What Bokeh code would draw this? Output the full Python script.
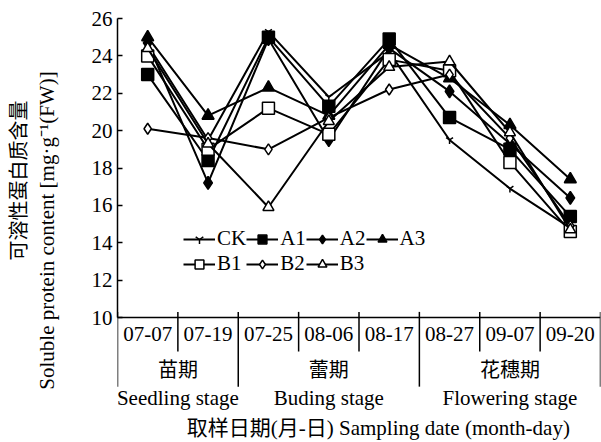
import numpy as np
from bokeh.plotting import figure
from bokeh.models import Range1d, FixedTicker, Title, ColumnDataSource
from bokeh.core.properties import value
from bokeh.embed import file_html
from bokeh.resources import INLINE

# ---------------- data ----------------
dates = ["07-07", "07-19", "07-25", "08-06", "08-17", "08-27", "09-07", "09-20"]
stage_cn = ["苗期", "蕾期", "花穗期"]
stage_en = ["Seedling stage", "Buding stage", "Flowering stage"]
stage_of_date = [0, 0, 1, 1, 1, 2, 2, 2]
y_ticks = [10, 12, 14, 16, 18, 20, 22, 24, 26]

series_names = ["CK", "A1", "A2", "A3", "B1", "B2", "B3"]
CK = [24.6, 19.5, 25.3, 21.8, 24.2, 19.5, 16.9, 14.8]
A1 = [23.0, 18.4, 25.0, 21.3, 24.9, 20.7, 19.0, 15.4]
A2 = [24.7, 17.2, 24.9, 19.5, 24.4, 22.1, 19.3, 16.4]
A3 = [25.0, 20.8, 22.3, 20.8, 24.6, 22.8, 20.3, 17.4]
B1 = [24.0, 19.0, 21.2, 19.8, 23.8, 23.2, 18.3, 14.6]
B2 = [20.1, 19.6, 19.0, 20.7, 22.2, 23.0, 19.6, 14.9]
B3 = [24.4, 19.3, 15.9, 20.5, 23.4, 23.7, 19.9, 14.7]
series_values = [CK, A1, A2, A3, B1, B2, B3]

y_label_cn = "可溶性蛋白质含量"
y_label_en = "Soluble protein content [mg·g⁻¹(FW)]"
x_title = "取样日期(月-日) Sampling date (month-day)"

# ---------------- styling ----------------
SERIF = "Liberation Serif"
MIX = "Liberation Serif, Noto Sans CJK SC"
CJK = "Noto Sans CJK SC"
FS = "21px"

markers = {
    "CK": dict(marker="y", size=8, fill_color="black"),
    "A1": dict(marker="square", size=12, fill_color="black"),
    "A2": dict(marker="diamond", size=13, fill_color="black"),
    "A3": dict(marker="triangle", size=12, fill_color="black"),
    "B1": dict(marker="square", size=12, fill_color="white"),
    "B2": dict(marker="diamond", size=11, fill_color="white"),
    "B3": dict(marker="triangle", size=11, fill_color="white"),
}

n = len(dates)
y_bottom = 10 - 125 / 18.6875

p = figure(width=601, height=442, x_range=Range1d(-0.5, n - 0.5),
           y_range=Range1d(y_bottom, 26), output_backend="svg",
           toolbar_location=None, x_axis_type=None,
           min_border_left=113, min_border_right=1, min_border_top=18,
           min_border_bottom=0)
p.outline_line_color = None
p.grid.visible = False

ax = p.yaxis[0]
ax.bounds = (y_ticks[0], y_ticks[-1])
ax.ticker = FixedTicker(ticks=y_ticks)
ax.major_tick_in = 5
ax.major_tick_out = 0
ax.minor_tick_line_color = None
ax.axis_line_width = 1.5
ax.major_tick_line_width = 1.5
ax.axis_line_color = "black"
ax.major_label_text_font = SERIF
ax.major_label_text_font_size = FS
ax.major_label_text_color = "black"
ax.major_label_standoff = 5
ax.axis_label = y_label_en
ax.axis_label_text_font = SERIF
ax.axis_label_text_font_size = FS
ax.axis_label_text_font_style = "normal"
ax.axis_label_text_color = "black"
ax.axis_label_standoff = 30

p.add_layout(Title(text=y_label_cn, align="right", offset=82,
                   text_font=CJK, text_font_size="20px",
                   text_font_style="normal", text_color="black",
                   standoff=0), "left")

# x axis line (manual, at y = first tick)
x_idx = list(range(n))
p.segment(x0=[-0.5], x1=[n - 0.5], y0=[y_ticks[0]], y1=[y_ticks[0]],
          line_color="black", line_width=1.5)

# separators
bounds_x, y_top, y_end = [], [], []
for i in range(n + 1):
    bounds_x.append(i - 0.5)
    y_top.append(y_ticks[0] + 0.3)
    long_ = (i == 0 or i == n or stage_of_date[i] != stage_of_date[i - 1])
    y_end.append(y_ticks[0] - (3.7 if long_ else 1.82))
p.segment(x0=bounds_x, x1=bounds_x, y0=y_top, y1=y_end,
          line_color="black", line_width=1.5)

# date labels
p.text(x=x_idx, y=[y_ticks[0] - 0.86] * n, text=dates,
       text_font=value(SERIF), text_font_size=FS, text_align="center",
       text_baseline="middle", text_color="black")

# stage labels
st_x = [float(np.mean([i for i in range(n) if stage_of_date[i] == s]))
        for s in range(len(stage_cn))]
p.text(x=st_x, y=[y_ticks[0] - 2.73] * len(st_x), text=stage_cn,
       text_font=value(CJK), text_font_size="20px", text_align="center",
       text_baseline="middle", text_color="black")
p.text(x=st_x, y=[y_ticks[0] - 4.33] * len(st_x), text=stage_en,
       text_font=value(SERIF), text_font_size=FS, text_align="center",
       text_baseline="middle", text_color="black")

# x title
p.text(x=[3.82], y=[y_ticks[0] - 5.9], text=[x_title],
       text_font=value(MIX), text_font_size=FS, text_align="center",
       text_baseline="middle", text_color="black")

# series
for name, vals in zip(series_names, series_values):
    src = ColumnDataSource(dict(x=x_idx, y=vals))
    m = markers[name]
    p.line("x", "y", source=src, line_color="black", line_width=2, legend_label=name)
    p.scatter("x", "y", source=src, marker=m["marker"], size=m["size"],
              fill_color=m["fill_color"], line_color="black", line_width=1.5,
              legend_label=name)

lg = p.legend[0]
lg.orientation = "horizontal"
lg.ncols = 4
lg.location = (66, 166)
lg.glyph_width = 32
lg.glyph_height = 22
lg.label_standoff = 2
lg.spacing = 0
lg.padding = 0
lg.margin = 0
lg.border_line_alpha = 0
lg.background_fill_alpha = 0
lg.label_text_font = SERIF
lg.label_text_font_size = FS
lg.label_text_color = "black"
lg.label_height = 22

open("out.html", "w").write(file_html(p, INLINE))
